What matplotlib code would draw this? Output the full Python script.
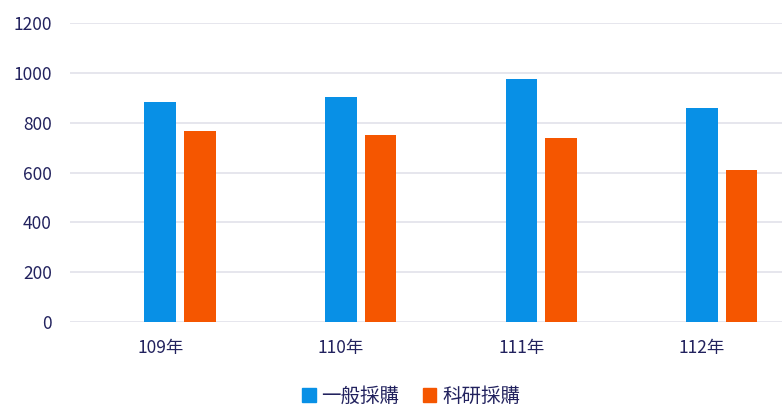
import matplotlib
matplotlib.use("Agg")
from matplotlib import pyplot as plt
from matplotlib.patches import Patch
import numpy as np

plt.rcParams['font.family'] = ['Noto Sans CJK TC', 'DejaVu Sans']

years = ["109年", "110年", "111年", "112年"]
general = [882, 905, 975, 860]      # 一般採購
research = [767, 750, 737, 612]     # 科研採購

blue = "#0890E6"
orange = "#F55600"
text_color = "#22225E"
grid_color = "#E2E2EA"

fig = plt.figure(figsize=(7.82, 4.05), dpi=100)
ax = fig.add_axes([70 / 782, 83 / 405, 712 / 782, 299 / 405])

x = np.arange(len(years))
width = 0.175
ax.bar(x, general, width, color=blue, zorder=3)
ax.bar(x + 0.219, research, width, color=orange, zorder=3)

ax.set_ylim(0, 1200)
ax.set_yticks(range(0, 1201, 200))
ax.set_xlim(-0.5, 3.443)
ax.set_xticks(x)
ax.set_xticklabels(years)

ax.grid(axis='y', color=grid_color, linewidth=1.2, zorder=0)
for s in ax.spines.values():
    s.set_visible(False)
ax.tick_params(axis='y', length=0, pad=13, labelsize=12.5, labelcolor=text_color)
ax.tick_params(axis='x', length=0, pad=12, labelsize=12.5, labelcolor=text_color)

handles = [Patch(color=blue, label="一般採購"), Patch(color=orange, label="科研採購")]
fig.legend(handles=handles, loc='center', bbox_to_anchor=(411 / 782, 9 / 405),
           ncol=2, frameon=False, fontsize=14, labelcolor=text_color,
           handlelength=0.7, handleheight=0.7, handletextpad=0.3, columnspacing=1.2)

fig.savefig("out.png", dpi=100)
